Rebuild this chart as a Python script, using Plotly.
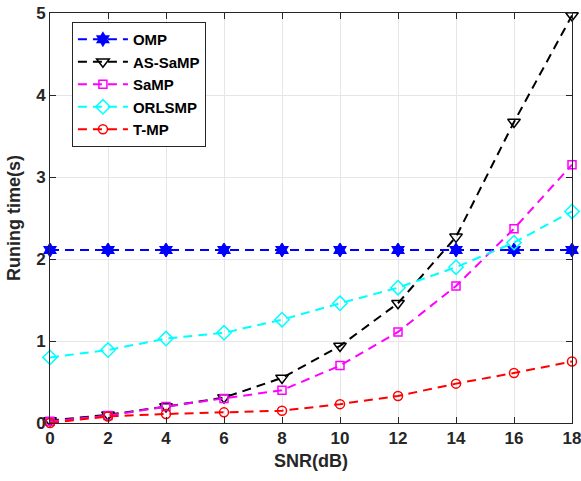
import plotly.graph_objects as go

snr_db = [0, 2, 4, 6, 8, 10, 12, 14, 16, 18]

omp = [2.11, 2.11, 2.11, 2.11, 2.11, 2.11, 2.11, 2.11, 2.11, 2.11]
as_samp = [0.03, 0.10, 0.20, 0.31, 0.55, 0.94, 1.46, 2.27, 3.67, 4.97]
samp = [0.02, 0.09, 0.20, 0.30, 0.40, 0.70, 1.11, 1.67, 2.37, 3.15]
orlsmp = [0.80, 0.89, 1.03, 1.10, 1.26, 1.46, 1.65, 1.90, 2.20, 2.58]
t_mp = [0.00, 0.08, 0.11, 0.13, 0.15, 0.23, 0.33, 0.48, 0.61, 0.75]

series = [
    ("OMP", omp, "#0000ff", "hexagram", 10),
    ("AS-SaMP", as_samp, "#000000", "triangle-down-open", 11),
    ("SaMP", samp, "#ff00ff", "square-open", 8),
    ("ORLSMP", orlsmp, "#00ffff", "diamond-open", 11),
    ("T-MP", t_mp, "#ff0000", "circle-open", 9),
]

fig = go.Figure()
for name, vals, color, symbol, size in series:
    fig.add_trace(go.Scatter(
        x=snr_db, y=vals, name=name, mode="lines+markers",
        line=dict(color=color, width=2, dash="9px,6px"),
        marker=dict(symbol=symbol, size=size, color=color,
                    line=dict(color=color, width=1.5)),
        cliponaxis=False,
    ))

font_family = "Liberation Sans, Arial, sans-serif"
axis_common = dict(
    showline=True, linecolor="#262626", linewidth=1, mirror="ticks",
    ticks="inside", ticklen=6, tickcolor="#262626",
    showgrid=True, gridcolor="#e6e6e6", gridwidth=1, zeroline=False,
    automargin=False, ticklabeloverflow="allow",
    tickfont=dict(family=font_family, size=17, color="#262626", weight="bold"),
)

fig.update_layout(
    width=581, height=481,
    margin=dict(l=50, r=9, t=13, b=58),
    paper_bgcolor="white", plot_bgcolor="white",
    font=dict(family=font_family, color="#262626"),
    xaxis=dict(range=[0, 18], tickvals=snr_db,
               title=dict(text="SNR(dB)", font=dict(size=18, weight="bold"), standoff=6),
               **axis_common),
    yaxis=dict(range=[0, 5], tickvals=[0, 1, 2, 3, 4, 5],
               title=dict(text="Runing time(s)", font=dict(size=18, weight="bold"), standoff=10),
               **axis_common),
    legend=dict(x=0.042, y=0.978, xanchor="left", yanchor="top",
                bgcolor="white", bordercolor="#262626", borderwidth=1,
                font=dict(family=font_family, size=15, color="#000000", weight="bold"),
                tracegroupgap=0, itemwidth=50),
)

fig.write_html("out.html")
